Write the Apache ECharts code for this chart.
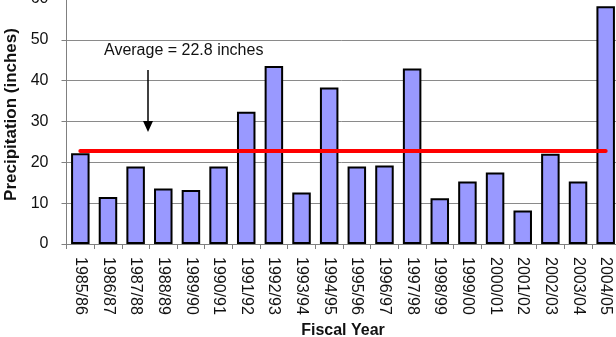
<!DOCTYPE html>
<html>
<head>
<meta charset="utf-8">
<script src="https://cdn.jsdelivr.net/npm/echarts@6/dist/echarts.min.js"></script>
<style>
  html, body { margin: 0; padding: 0; background: #fff; }
  #chart { width: 616px; height: 337px; }
</style>
</head>
<body>
<div id="chart"></div>
<script>
// Annual precipitation by fiscal year
const fiscalYears = [
  '1985/86', '1986/87', '1987/88', '1988/89', '1989/90',
  '1990/91', '1991/92', '1992/93', '1993/94', '1994/95',
  '1995/96', '1996/97', '1997/98', '1998/99', '1999/00',
  '2000/01', '2001/02', '2002/03', '2003/04', '2004/05'
];
const precipitation = [
  22.2, 11.5, 19.0, 13.6, 13.2,
  19.0, 32.4, 43.6, 12.6, 38.3,
  19.0, 19.2, 43.0, 11.2, 15.3,
  17.5, 8.2, 22.1, 15.3, 58.2
];
const averagePrecip = 22.8;
const yTicks = [0, 10, 20, 30, 40, 50, 60];

const font = 'Liberation Sans, Arial, sans-serif';
const chart = echarts.init(document.getElementById('chart'), null, { renderer: 'canvas' });

chart.setOption({
  animation: false,
  backgroundColor: '#ffffff',
  grid: {
    left: 66.5, right: -3.5, top: -1, bottom: 93,
    containLabel: false,
    outerBoundsMode: 'none'
  },
  xAxis: {
    type: 'category',
    data: fiscalYears,
    name: 'Fiscal Year',
    nameLocation: 'middle',
    nameGap: 78,
    nameTextStyle: { fontFamily: font, fontSize: 16, fontWeight: 'bold', color: '#111' },
    axisLine: { lineStyle: { color: '#808080', width: 1 } },
    axisTick: { show: true, alignWithLabel: false, length: 5, lineStyle: { color: '#808080' } },
    axisLabel: {
      rotate: -90, interval: 0, margin: 13,
      fontFamily: font, fontSize: 16, color: '#111'
    }
  },
  yAxis: {
    type: 'value',
    min: yTicks[0],
    max: yTicks[yTicks.length - 1],
    interval: 10,
    name: 'Precipitation (inches)',
    nameLocation: 'middle',
    nameGap: 46,
    nameTextStyle: {
      fontFamily: font, fontSize: 17, fontWeight: 'bold', color: '#111',
      padding: [0, 0, 0, 14]
    },
    axisLine: { show: true, lineStyle: { color: '#808080', width: 1 } },
    axisTick: { show: true, length: 5, lineStyle: { color: '#808080' } },
    axisLabel: { margin: 18, fontFamily: font, fontSize: 16, color: '#111' },
    splitLine: { lineStyle: { color: '#8a8a8a', width: 1 } }
  },
  series: [{
    type: 'bar',
    data: precipitation,
    barWidth: 18.5,
    itemStyle: { color: '#9999ff', borderColor: '#000000', borderWidth: 2 },
    markLine: {
      silent: true,
      symbol: 'none',
      label: { show: false },
      lineStyle: { color: '#ff0000', width: 4, type: 'solid', cap: 'round' },
      data: [[
        { coord: [fiscalYears[0], averagePrecip] },
        { coord: [fiscalYears[fiscalYears.length - 1], averagePrecip] }
      ]]
    }
  }],
  graphic: [
    {
      type: 'text', left: 104, top: 43, z: 10,
      style: { text: 'Average = ' + averagePrecip + ' inches', font: '16px ' + font, fill: '#111' }
    },
    {
      type: 'line', z: 10,
      shape: { x1: 148, y1: 70, x2: 148, y2: 124 },
      style: { stroke: '#000', lineWidth: 1.5 }
    },
    {
      type: 'polygon', z: 10,
      shape: { points: [[143, 121], [153, 121], [148, 132]] },
      style: { fill: '#000' }
    }
  ]
});
</script>
</body>
</html>
